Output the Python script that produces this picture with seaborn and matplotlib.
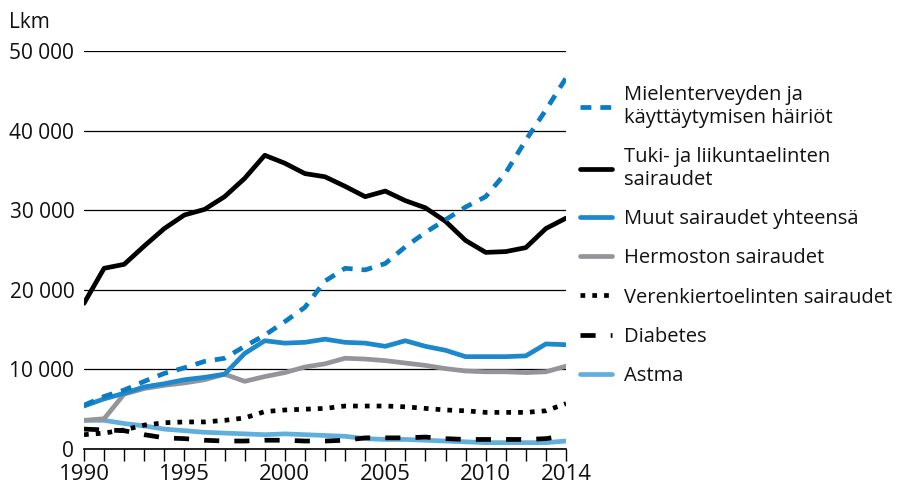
import seaborn as sns
import pandas as pd
import matplotlib.pyplot as plt
from matplotlib.ticker import FuncFormatter

years = list(range(1990, 2015))

mielenterveys = [5500, 6600, 7400, 8500, 9500, 10200, 11000, 11400, 12900, 14300,
                 16000, 17800, 21100, 22700, 22500, 23300, 25400, 27200, 28800, 30400,
                 31700, 34700, 38800, 42600, 46600]
tuki = [18300, 22700, 23200, 25500, 27700, 29400, 30100, 31700, 34000, 36900,
        35900, 34600, 34200, 33000, 31700, 32400, 31200, 30300, 28600, 26200,
        24700, 24800, 25300, 27700, 29000]
muut = [5400, 6300, 7000, 7800, 8200, 8700, 9000, 9400, 12000, 13600,
        13300, 13400, 13800, 13400, 13300, 12900, 13600, 12900, 12400, 11600,
        11600, 11600, 11700, 13200, 13100]
hermosto = [3600, 3800, 6900, 7600, 8000, 8300, 8700, 9400, 8500, 9100,
            9600, 10300, 10700, 11400, 11300, 11100, 10800, 10500, 10100, 9800,
            9700, 9700, 9600, 9700, 10400]
verenkierto = [1800, 2000, 2400, 3000, 3300, 3400, 3400, 3600, 3900, 4700,
               4900, 5000, 5100, 5400, 5400, 5400, 5300, 5100, 4900, 4800,
               4600, 4600, 4600, 4800, 5700]
diabetes = [2500, 2400, 2300, 1800, 1400, 1300, 1100, 1000, 1000, 1100,
            1100, 1000, 1000, 1100, 1400, 1400, 1400, 1500, 1300, 1200,
            1200, 1200, 1200, 1300, 1700]
astma = [3600, 3600, 3200, 2900, 2500, 2300, 2100, 2000, 1900, 1800,
         1900, 1800, 1700, 1600, 1300, 1200, 1200, 1100, 1000, 900,
         800, 800, 800, 800, 1000]

labels = ['Mielenterveyden ja\nkäyttäytymisen häiriöt',
          'Tuki- ja liikuntaelinten\nsairaudet',
          'Muut sairaudet yhteensä',
          'Hermoston sairaudet',
          'Verenkiertoelinten sairaudet',
          'Diabetes',
          'Astma']
series = [mielenterveys, tuki, muut, hermosto, verenkierto, diabetes, astma]
colors = ['#0a7cc4', '#000000', '#1e88cc', '#939598', '#000000', '#000000', '#62afde']
dashes = [(2.3, 1.9), None, None, None, (1, 1.5), (3.2, 3.2), None]

sns.set_theme(style='white')
plt.rcParams['font.family'] = ['Open Sans', 'DejaVu Sans']
plt.rcParams['text.color'] = '#111111'

fig, ax = plt.subplots(figsize=(8.98, 4.86), dpi=100)
fig.subplots_adjust(left=84/898, right=566/898, bottom=1-449/486, top=1-51/486)

handles = {}
# draw back to front so the order matches the original layering
for i in reversed(range(len(series))):
    df = pd.DataFrame({'Vuosi': years, 'Lkm': series[i]})
    sns.lineplot(data=df, x='Vuosi', y='Lkm', ax=ax, color=colors[i], lw=3.4,
                 legend=False)
    line = ax.get_lines()[-1]
    if dashes[i] is not None:
        line.set_dashes(dashes[i])
        line.set_dash_capstyle('butt')
    handles[i] = line

ax.set_xlim(1990, 2014)
ax.set_ylim(0, 50000)
ax.set_xlabel('')
ax.set_ylabel('')

ax.set_yticks(range(0, 50001, 10000))
ax.yaxis.set_major_formatter(FuncFormatter(lambda v, p: f'{int(v):,}'.replace(',', ' ')))
ax.yaxis.grid(True, color='black', lw=0.9)
ax.set_axisbelow(True)

ax.set_xticks(years)
ax.set_xticklabels([str(y) if y in (1990, 1995, 2000, 2005, 2010, 2014) else '' for y in years])
ax.tick_params(axis='x', direction='out', length=8.5, width=1.0, color='black',
               labelsize=16, pad=2, bottom=True, labelcolor='#111111')
ax.tick_params(axis='y', length=0, labelsize=15, pad=7, labelcolor='#111111')

for s in ['top', 'right', 'left']:
    ax.spines[s].set_visible(False)
ax.spines['bottom'].set_color('black')
ax.spines['bottom'].set_linewidth(1.2)

fig.text(9/898, 1-23/486, 'Lkm', fontsize=15, ha='left', va='center')

leg = ax.legend([handles[i] for i in range(len(series))], labels,
                loc='upper left', bbox_to_anchor=(580/898, 1-85/486),
                bbox_transform=fig.transFigure, frameon=False, fontsize=14.5,
                handlelength=1.6, handletextpad=0.6, labelspacing=0.95,
                borderpad=0, borderaxespad=0)

fig.savefig('out.png', dpi=100)
